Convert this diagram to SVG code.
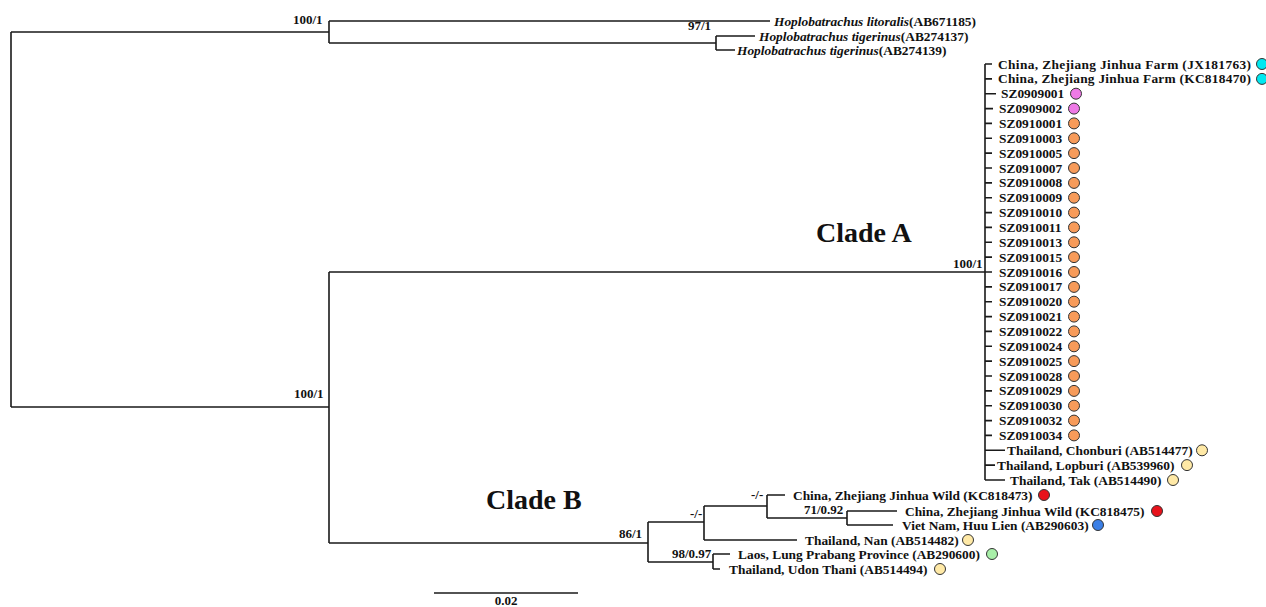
<svg xmlns="http://www.w3.org/2000/svg" width="1266" height="607" viewBox="0 0 1266 607">
<style>
.br{fill:none;stroke:#1a1a1a;stroke-width:1.6}
.t{font-family:"Liberation Serif","Times New Roman",serif;font-weight:bold;font-size:13.4px;fill:#111}
.it{font-style:italic}
.s{font-family:"Liberation Serif","Times New Roman",serif;font-weight:bold;font-size:13px;fill:#111}
.clade{font-family:"Liberation Serif","Times New Roman",serif;font-weight:bold;font-size:28px;fill:#111}
.c{stroke:#333;stroke-width:1}
.cy{fill:#00E8F0}.pk{fill:#EE7AE6}.or{fill:#F79B5A}.ye{fill:#FFE9A6}.rd{fill:#E8121B}.bl{fill:#3B7FE6}.gr{fill:#A8EFA8}
</style>
<rect width="1266" height="607" fill="#fff"/>
<g id="connectors" class="br">
<path d="M11,32V407M11,32H329M11,407H329"/>
<path d="M329,21V43M329,21H770M329,43H716M716,36V50M716,36H755M716,50H735"/>
<path d="M329,272V543M329,272H985M329,543H648"/>
<path d="M985,64V480M985,64H992M985,78.9H992M985,93.7H996M985,108.6H993M985,123.4H992M985,138.3H992M985,153.1H992M985,168H992M985,182.9H992M985,197.7H992M985,212.6H992M985,227.4H992M985,242.3H992M985,257.1H992M985,272H992M985,286.9H992M985,301.7H992M985,316.6H992M985,331.4H992M985,346.3H992M985,361.1H992M985,376H992M985,390.9H992M985,405.7H992M985,420.6H992M985,435.4H992M985,450.3H1005M985,465.1H995M985,480H1005"/>
<path d="M648,522V562M648,522H704M704,506V540M704,506H767M767,495V518M767,495H785M767,518H847M847,511V525M847,511H897M847,525H893M704,540H797M648,562H713M713,554V569M713,554H730M713,569H720"/>
<path d="M434,593H578"/>
</g>
<g id="labels">
<text class="s" x="293" y="24">100/1</text>
<text class="s" x="688" y="30">97/1</text>
<text class="s" x="953" y="268">100/1</text>
<text class="s" x="294" y="398">100/1</text>
<text class="s" x="619" y="538">86/1</text>
<text class="s" x="690" y="518">-/-</text>
<text class="s" x="751" y="499">-/-</text>
<text class="s" x="804" y="514">71/0.92</text>
<text class="s" x="672" y="558">98/0.97</text>
<text class="clade" x="816" y="242">Clade A</text>
<text class="clade" x="486" y="509">Clade B</text>
<text class="s" x="506" y="605" text-anchor="middle">0.02</text>
</g>
<g id="outgroup">
<g id="n-litoralis"><text class="t" x="774" y="25.5"><tspan class="it">Hoplobatrachus litoralis</tspan>(AB671185)</text></g>
<g id="n-tig1"><text class="t" x="759" y="40.5"><tspan class="it">Hoplobatrachus tigerinus</tspan>(AB274137)</text></g>
<g id="n-tig2"><text class="t" x="737" y="54.5"><tspan class="it">Hoplobatrachus tigerinus</tspan>(AB274139)</text></g>
</g>
<g id="cladeA">
<g id="a1"><text class="t" x="998" y="68.5" textLength="253" lengthAdjust="spacing">China, Zhejiang Jinhua Farm (JX181763)</text><circle class="c cy" cx="1262" cy="64" r="5.5"/></g>
<g id="a2"><text class="t" x="998" y="83.4" textLength="253" lengthAdjust="spacing">China, Zhejiang Jinhua Farm (KC818470)</text><circle class="c cy" cx="1262" cy="78.9" r="5.5"/></g>
<g id="a3"><text class="t" x="1001" y="98.2">SZ0909001</text><circle class="c pk" cx="1076" cy="93.7" r="5.5"/></g>
<g id="a4"><text class="t" x="999" y="113.1">SZ0909002</text><circle class="c pk" cx="1074" cy="108.6" r="5.5"/></g>
<g id="a5"><text class="t" x="999" y="127.9">SZ0910001</text><circle class="c or" cx="1074" cy="123.4" r="5.5"/></g>
<g id="a6"><text class="t" x="999" y="142.8">SZ0910003</text><circle class="c or" cx="1074" cy="138.3" r="5.5"/></g>
<g id="a7"><text class="t" x="999" y="157.6">SZ0910005</text><circle class="c or" cx="1074" cy="153.1" r="5.5"/></g>
<g id="a8"><text class="t" x="999" y="172.5">SZ0910007</text><circle class="c or" cx="1074" cy="168" r="5.5"/></g>
<g id="a9"><text class="t" x="999" y="187.4">SZ0910008</text><circle class="c or" cx="1074" cy="182.9" r="5.5"/></g>
<g id="a10"><text class="t" x="999" y="202.2">SZ0910009</text><circle class="c or" cx="1074" cy="197.7" r="5.5"/></g>
<g id="a11"><text class="t" x="999" y="217.1">SZ0910010</text><circle class="c or" cx="1074" cy="212.6" r="5.5"/></g>
<g id="a12"><text class="t" x="999" y="231.9">SZ0910011</text><circle class="c or" cx="1074" cy="227.4" r="5.5"/></g>
<g id="a13"><text class="t" x="999" y="246.8">SZ0910013</text><circle class="c or" cx="1074" cy="242.3" r="5.5"/></g>
<g id="a14"><text class="t" x="999" y="261.6">SZ0910015</text><circle class="c or" cx="1074" cy="257.1" r="5.5"/></g>
<g id="a15"><text class="t" x="999" y="276.5">SZ0910016</text><circle class="c or" cx="1074" cy="272" r="5.5"/></g>
<g id="a16"><text class="t" x="999" y="291.4">SZ0910017</text><circle class="c or" cx="1074" cy="286.9" r="5.5"/></g>
<g id="a17"><text class="t" x="999" y="306.2">SZ0910020</text><circle class="c or" cx="1074" cy="301.7" r="5.5"/></g>
<g id="a18"><text class="t" x="999" y="321.1">SZ0910021</text><circle class="c or" cx="1074" cy="316.6" r="5.5"/></g>
<g id="a19"><text class="t" x="999" y="335.9">SZ0910022</text><circle class="c or" cx="1074" cy="331.4" r="5.5"/></g>
<g id="a20"><text class="t" x="999" y="350.8">SZ0910024</text><circle class="c or" cx="1074" cy="346.3" r="5.5"/></g>
<g id="a21"><text class="t" x="999" y="365.6">SZ0910025</text><circle class="c or" cx="1074" cy="361.1" r="5.5"/></g>
<g id="a22"><text class="t" x="999" y="380.5">SZ0910028</text><circle class="c or" cx="1074" cy="376" r="5.5"/></g>
<g id="a23"><text class="t" x="999" y="395.4">SZ0910029</text><circle class="c or" cx="1074" cy="390.9" r="5.5"/></g>
<g id="a24"><text class="t" x="999" y="410.2">SZ0910030</text><circle class="c or" cx="1074" cy="405.7" r="5.5"/></g>
<g id="a25"><text class="t" x="999" y="425.1">SZ0910032</text><circle class="c or" cx="1074" cy="420.6" r="5.5"/></g>
<g id="a26"><text class="t" x="999" y="439.9">SZ0910034</text><circle class="c or" cx="1074" cy="435.4" r="5.5"/></g>
<g id="a27"><text class="t" x="1007" y="454.8">Thailand, Chonburi (AB514477)</text><circle class="c ye" cx="1202" cy="450.3" r="5.5"/></g>
<g id="a28"><text class="t" x="997" y="469.6">Thailand, Lopburi (AB539960)</text><circle class="c ye" cx="1187" cy="465.1" r="5.5"/></g>
<g id="a29"><text class="t" x="1010" y="484.5">Thailand, Tak (AB514490)</text><circle class="c ye" cx="1173" cy="480" r="5.5"/></g>
</g>
<g id="cladeB">
<g id="b1"><text class="t" x="793" y="499.5">China, Zhejiang Jinhua Wild (KC818473)</text><circle class="c rd" cx="1044" cy="495" r="5.5"/></g>
<g id="b2"><text class="t" x="905" y="515.5">China, Zhejiang Jinhua Wild (KC818475)</text><circle class="c rd" cx="1157" cy="511" r="5.5"/></g>
<g id="b3"><text class="t" x="902" y="529.5">Viet Nam, Huu Lien (AB290603)</text><circle class="c bl" cx="1098" cy="525" r="5.5"/></g>
<g id="b4"><text class="t" x="805" y="544.5">Thailand, Nan (AB514482)</text><circle class="c ye" cx="968" cy="540" r="5.5"/></g>
<g id="b5"><text class="t" x="738" y="558.5">Laos, Lung Prabang Province (AB290600)</text><circle class="c gr" cx="992" cy="554" r="5.5"/></g>
<g id="b6"><text class="t" x="729" y="573.5">Thailand, Udon Thani (AB514494)</text><circle class="c ye" cx="940" cy="569" r="5.5"/></g>
</g>
</svg>
